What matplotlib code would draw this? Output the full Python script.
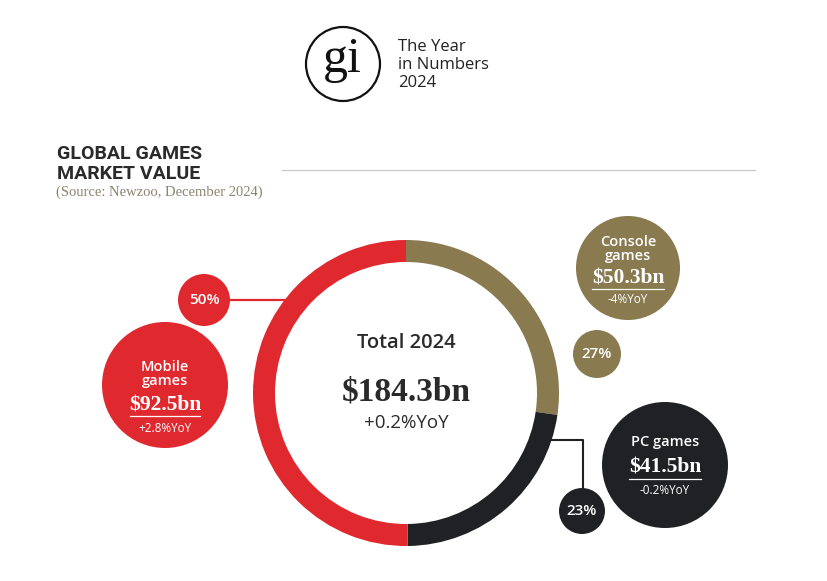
import matplotlib
matplotlib.use('Agg')
import matplotlib.pyplot as plt
from matplotlib.patches import Circle

# data
segments = ['Console\ngames', 'PC games', 'Mobile\ngames']
values = [50.3, 41.5, 92.5]
shares = ['27%', '23%', '50%']
yoy = ['-4%YoY', '-0.2%YoY', '+2.8%YoY']
total_label = 'Total 2024'
total_value = '$184.3bn'
total_yoy = '+0.2%YoY'

colors = ['#8a7a50', '#1f2124', '#e0292f']
W, H = 828, 581

fig = plt.figure(figsize=(W / 100, H / 100), dpi=100)
ax = fig.add_axes([0, 0, 1, 1])

def Y(y):
    return H - y

sans = ['Open Sans', 'DejaVu Sans']
serif = ['Liberation Serif', 'DejaVu Serif']

# donut
cx, cy, R = 406, Y(393), 153
ax.pie(values, colors=colors, startangle=90, counterclock=False,
       center=(cx, cy), radius=R, wedgeprops=dict(width=22, linewidth=0),
       frame=True)
ax.set_xlim(0, W)
ax.set_ylim(0, H)
ax.set_aspect('equal')
ax.axis('off')

# logo
ax.add_patch(Circle((343, Y(64)), 37, fill=False, ec='#111111', lw=1.6))
ax.text(342, Y(60), 'gi', family=serif, fontsize=36, ha='center', va='center', color='#111111')
ax.text(398, Y(65), 'The Year\nin Numbers\n2024', family=sans, fontsize=12,
        ha='left', va='center', color='#222222', linespacing=1.15)

# title
ax.text(57, Y(164), 'GLOBAL GAMES\nMARKET VALUE', family=['Roboto', 'DejaVu Sans'],
        fontweight='bold', fontsize=14, ha='left', va='center', color='#2a2a2a',
        linespacing=1.2)
ax.text(56, Y(192), '(Source: Newzoo, December 2024)', family=serif, fontsize=10.5,
        ha='left', va='center', color='#8a8570')
ax.plot([282, 755], [Y(170), Y(170)], color='#c8c8c8', lw=0.9)

ax.text(cx, Y(343), total_label, family=sans, fontsize=14.5, ha='center', va='center',
        color='#2a2a2a', fontweight='semibold')
ax.text(cx, Y(392), total_value, family=serif, fontsize=24, ha='center', va='center',
        color='#2a2a2a', fontweight='bold')
ax.text(cx, Y(423), total_yoy, family=sans, fontsize=13.5, ha='center', va='center',
        color='#2a2a2a')

# big bubbles: (x, y, r, name y, value y, underline y, half width, yoy y)
big = [
    (628, 268, 52, 249, 279, 289, 36, 300),
    (665, 465, 63, 442, 468, 479, 36, 490),
    (165, 385, 63, 374, 406, 416, 35, 428),
]
for i, (bx, by, br, ny, vy, uy, hw, yy) in enumerate(big):
    ax.add_patch(Circle((bx, Y(by)), br, color=colors[i], lw=0))
    ax.text(bx, Y(ny), segments[i], family=sans, fontsize=10.5, ha='center', va='center',
            color='white', linespacing=1.05, fontweight='semibold')
    ax.text(bx, Y(vy), '$%.1fbn' % values[i], family=serif, fontsize=15.5, ha='center',
            va='center', color='white', fontweight='bold')
    ax.plot([bx - hw, bx + hw], [Y(uy), Y(uy)], color='white', lw=0.9)
    ax.text(bx, Y(yy), yoy[i], family=sans, fontsize=8.5, ha='center', va='center',
            color='white')

# share bubbles
small = [(597, 354, 24), (582, 511, 23), (204, 300, 26)]
for i, (sx, sy, sr) in enumerate(small):
    ax.add_patch(Circle((sx, Y(sy)), sr, color=colors[i], lw=0))
    ax.text(sx, Y(sy), shares[i], family=sans, fontsize=11, ha='center', va='center',
            color='white', fontweight='semibold')

# connectors
ax.plot([230, 290], [Y(300), Y(300)], color=colors[2], lw=1.6)
ax.plot([548, 583, 583], [Y(440), Y(440), Y(488)], color=colors[1], lw=1.5)

fig.savefig('out.png', dpi=100, facecolor='white')
